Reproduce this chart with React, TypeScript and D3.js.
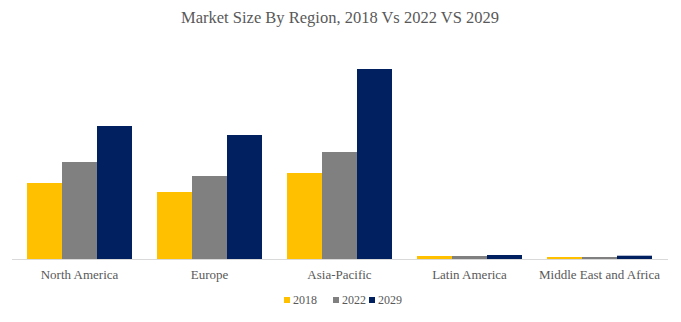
import React from "react";
import * as d3 from "d3";

const categories = ["North America", "Europe", "Asia-Pacific", "Latin America", "Middle East and Africa"];
const seriesNames = ["2018", "2022", "2029"];
const values2018 = [76, 67, 86, 3, 2];
const values2022 = [97, 83, 107, 3, 2];
const values2029 = [133, 124, 190, 4, 3.3];
const colors = ["#FFC000", "#808080", "#002060"];

const W = 681;
const H = 322;
const FONT = "'Liberation Serif', 'DejaVu Serif', serif";

export default function App() {
  const series = [values2018, values2022, values2029];
  const x0 = d3.scaleBand<string>().domain(categories).range([14.5, 664.5]).paddingInner(0).paddingOuter(0);
  const x1 = d3
    .scaleBand<string>()
    .domain(seriesNames)
    .range([0, x0.bandwidth()])
    .paddingInner(0)
    .paddingOuter(0.357);
  const y = d3.scaleLinear().domain([0, 200]).range([259, 59]);

  const legendItems = seriesNames.map((s, i) => ({ s, i }));
  const legendX = [284, 333, 369];

  return (
    <svg width={W} height={H} style={{ position: "absolute", left: 0, top: 0 }}>
      <rect width={W} height={H} fill="#ffffff" />
      <text x={340} y={23} textAnchor="middle" fontFamily={FONT} fontSize={16.5} fill="#595959">
        Market Size By Region, 2018 Vs 2022 VS 2029
      </text>
      {categories.map((c, ci) => (
        <g key={c} transform={`translate(${x0(c)},0)`}>
          {seriesNames.map((s, si) => {
            const v = series[si][ci];
            return (
              <rect
                key={s}
                x={x1(s)}
                y={y(v)}
                width={x1.bandwidth()}
                height={y(0) - y(v)}
                fill={colors[si]}
              />
            );
          })}
          <text
            x={x0.bandwidth() / 2}
            y={279}
            textAnchor="middle"
            fontFamily={FONT}
            fontSize={13}
            fill="#595959"
          >
            {c}
          </text>
        </g>
      ))}
      <line x1={12} x2={668} y1={y(0) + 0.5} y2={y(0) + 0.5} stroke="#D9D9D9" strokeWidth={1} />
      {legendItems.map(({ s, i }) => (
        <g key={s} transform={`translate(${legendX[i]},0)`}>
          <rect x={0} y={297} width={6} height={6} fill={colors[i]} />
          <text x={9} y={304} fontFamily={FONT} fontSize={12} fill="#595959">
            {s}
          </text>
        </g>
      ))}
    </svg>
  );
}
